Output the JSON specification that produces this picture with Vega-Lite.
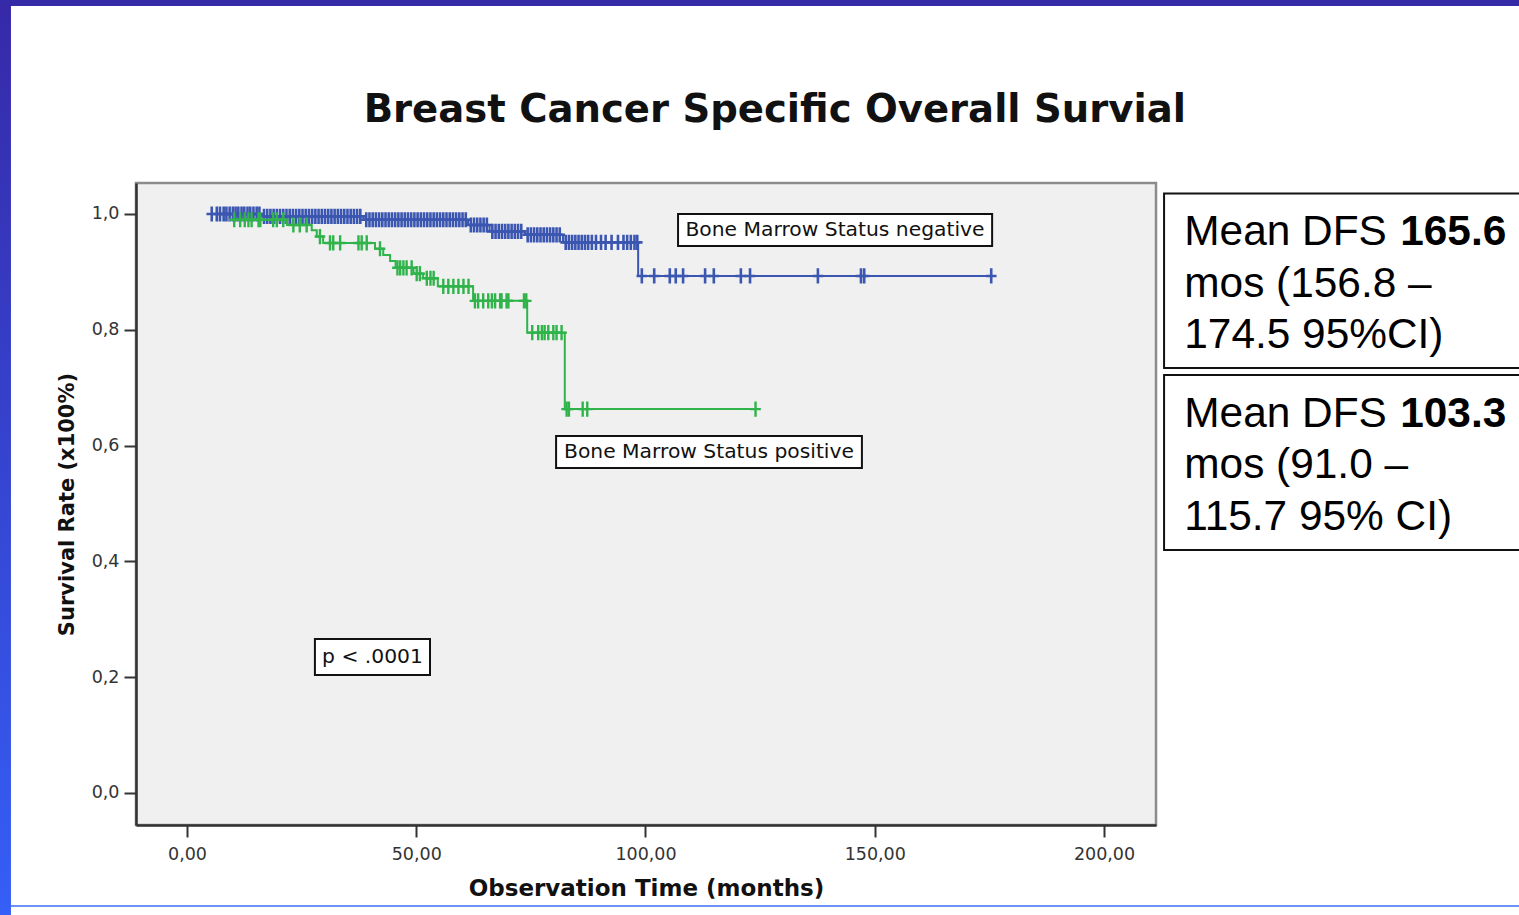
{
  "$schema": "https://vega.github.io/schema/vega-lite/v6.json",
  "width": 1020,
  "height": 642,
  "autosize": {"type": "none"},
  "padding": {"left": 136, "top": 183, "right": 363, "bottom": 90},
  "background": "white",
  "config": {
    "view": {"fill": "#f0f0f0", "stroke": "#8c8c8c", "strokeWidth": 2.5},
    "axis": {
      "domainColor": "#333333", "domainWidth": 2.5, "tickColor": "#333333", "tickWidth": 2, "tickSize": 12,
      "labelFont": "DejaVu Sans", "labelFontSize": 17.5, "labelColor": "#333333",
      "titleFont": "DejaVu Sans", "titleFontWeight": "bold", "titleColor": "#111111", "grid": false
    }
  },
  "datasets": {
    "km": [
      {"g":"neg","x":5.4,"y":1.0,"c":1},
      {"g":"neg","x":6.5,"y":1.0,"c":1},{"g":"neg","x":7.2,"y":1.0,"c":1},{"g":"neg","x":8.0,"y":1.0,"c":1},{"g":"neg","x":8.6,"y":1.0,"c":1},{"g":"neg","x":9.3,"y":1.0,"c":1},{"g":"neg","x":10.0,"y":1.0,"c":1},{"g":"neg","x":10.6,"y":1.0,"c":1},{"g":"neg","x":11.2,"y":1.0,"c":1},{"g":"neg","x":11.9,"y":1.0,"c":1},{"g":"neg","x":12.5,"y":1.0,"c":1},{"g":"neg","x":13.2,"y":1.0,"c":1},{"g":"neg","x":13.8,"y":1.0,"c":1},{"g":"neg","x":14.5,"y":1.0,"c":1},{"g":"neg","x":15.2,"y":1.0,"c":1},{"g":"neg","x":15.8,"y":1.0,"c":1},
      {"g":"neg","x":16.2,"y":0.996,"c":0},
      {"g":"neg","x":16.8,"y":0.996,"c":1},{"g":"neg","x":17.5,"y":0.996,"c":1},{"g":"neg","x":18.2,"y":0.996,"c":1},{"g":"neg","x":18.9,"y":0.996,"c":1},{"g":"neg","x":19.6,"y":0.996,"c":1},{"g":"neg","x":20.3,"y":0.996,"c":1},{"g":"neg","x":21.0,"y":0.996,"c":1},{"g":"neg","x":21.7,"y":0.996,"c":1},{"g":"neg","x":22.4,"y":0.996,"c":1},{"g":"neg","x":23.1,"y":0.996,"c":1},{"g":"neg","x":23.8,"y":0.996,"c":1},{"g":"neg","x":24.5,"y":0.996,"c":1},{"g":"neg","x":25.2,"y":0.996,"c":1},{"g":"neg","x":25.9,"y":0.996,"c":1},{"g":"neg","x":26.6,"y":0.996,"c":1},{"g":"neg","x":27.3,"y":0.996,"c":1},{"g":"neg","x":28.0,"y":0.996,"c":1},{"g":"neg","x":28.7,"y":0.996,"c":1},{"g":"neg","x":29.4,"y":0.996,"c":1},{"g":"neg","x":30.1,"y":0.996,"c":1},{"g":"neg","x":30.8,"y":0.996,"c":1},{"g":"neg","x":31.5,"y":0.996,"c":1},{"g":"neg","x":32.2,"y":0.996,"c":1},{"g":"neg","x":32.9,"y":0.996,"c":1},{"g":"neg","x":33.6,"y":0.996,"c":1},{"g":"neg","x":34.3,"y":0.996,"c":1},{"g":"neg","x":35.0,"y":0.996,"c":1},{"g":"neg","x":35.7,"y":0.996,"c":1},{"g":"neg","x":36.4,"y":0.996,"c":1},{"g":"neg","x":37.1,"y":0.996,"c":1},{"g":"neg","x":37.8,"y":0.996,"c":1},
      {"g":"neg","x":38.5,"y":0.99,"c":0},
      {"g":"neg","x":39.1,"y":0.99,"c":1},{"g":"neg","x":39.8,"y":0.99,"c":1},{"g":"neg","x":40.5,"y":0.99,"c":1},{"g":"neg","x":41.2,"y":0.99,"c":1},{"g":"neg","x":41.9,"y":0.99,"c":1},{"g":"neg","x":42.6,"y":0.99,"c":1},{"g":"neg","x":43.3,"y":0.99,"c":1},{"g":"neg","x":44.0,"y":0.99,"c":1},{"g":"neg","x":44.7,"y":0.99,"c":1},{"g":"neg","x":45.4,"y":0.99,"c":1},{"g":"neg","x":46.1,"y":0.99,"c":1},{"g":"neg","x":46.8,"y":0.99,"c":1},{"g":"neg","x":47.5,"y":0.99,"c":1},{"g":"neg","x":48.2,"y":0.99,"c":1},{"g":"neg","x":48.9,"y":0.99,"c":1},{"g":"neg","x":49.6,"y":0.99,"c":1},{"g":"neg","x":50.3,"y":0.99,"c":1},{"g":"neg","x":51.0,"y":0.99,"c":1},{"g":"neg","x":51.7,"y":0.99,"c":1},{"g":"neg","x":52.4,"y":0.99,"c":1},{"g":"neg","x":53.1,"y":0.99,"c":1},{"g":"neg","x":53.8,"y":0.99,"c":1},{"g":"neg","x":54.5,"y":0.99,"c":1},{"g":"neg","x":55.2,"y":0.99,"c":1},{"g":"neg","x":55.9,"y":0.99,"c":1},{"g":"neg","x":56.6,"y":0.99,"c":1},{"g":"neg","x":57.3,"y":0.99,"c":1},{"g":"neg","x":58.0,"y":0.99,"c":1},{"g":"neg","x":58.7,"y":0.99,"c":1},{"g":"neg","x":59.4,"y":0.99,"c":1},{"g":"neg","x":60.1,"y":0.99,"c":1},{"g":"neg","x":60.8,"y":0.99,"c":1},
      {"g":"neg","x":61.3,"y":0.981,"c":0},
      {"g":"neg","x":61.9,"y":0.981,"c":1},{"g":"neg","x":62.6,"y":0.981,"c":1},{"g":"neg","x":63.3,"y":0.981,"c":1},{"g":"neg","x":64.0,"y":0.981,"c":1},{"g":"neg","x":64.7,"y":0.981,"c":1},{"g":"neg","x":65.4,"y":0.981,"c":1},
      {"g":"neg","x":66.0,"y":0.97,"c":0},
      {"g":"neg","x":66.6,"y":0.97,"c":1},{"g":"neg","x":67.3,"y":0.97,"c":1},{"g":"neg","x":68.0,"y":0.97,"c":1},{"g":"neg","x":68.7,"y":0.97,"c":1},{"g":"neg","x":69.4,"y":0.97,"c":1},{"g":"neg","x":70.1,"y":0.97,"c":1},{"g":"neg","x":70.8,"y":0.97,"c":1},{"g":"neg","x":71.5,"y":0.97,"c":1},{"g":"neg","x":72.2,"y":0.97,"c":1},{"g":"neg","x":72.9,"y":0.97,"c":1},
      {"g":"neg","x":73.7,"y":0.964,"c":0},
      {"g":"neg","x":74.3,"y":0.964,"c":1},{"g":"neg","x":75.0,"y":0.964,"c":1},{"g":"neg","x":75.7,"y":0.964,"c":1},{"g":"neg","x":76.4,"y":0.964,"c":1},{"g":"neg","x":77.1,"y":0.964,"c":1},{"g":"neg","x":77.8,"y":0.964,"c":1},{"g":"neg","x":78.5,"y":0.964,"c":1},{"g":"neg","x":79.2,"y":0.964,"c":1},{"g":"neg","x":79.9,"y":0.964,"c":1},{"g":"neg","x":80.6,"y":0.964,"c":1},{"g":"neg","x":81.3,"y":0.964,"c":1},
      {"g":"neg","x":82.0,"y":0.951,"c":0},
      {"g":"neg","x":82.6,"y":0.951,"c":1},{"g":"neg","x":83.3,"y":0.951,"c":1},{"g":"neg","x":84.0,"y":0.951,"c":1},{"g":"neg","x":84.7,"y":0.951,"c":1},{"g":"neg","x":85.4,"y":0.951,"c":1},{"g":"neg","x":86.1,"y":0.951,"c":1},{"g":"neg","x":86.8,"y":0.951,"c":1},{"g":"neg","x":87.5,"y":0.951,"c":1},{"g":"neg","x":88.3,"y":0.951,"c":1},{"g":"neg","x":89.2,"y":0.951,"c":1},{"g":"neg","x":90.3,"y":0.951,"c":1},{"g":"neg","x":91.3,"y":0.951,"c":1},{"g":"neg","x":92.6,"y":0.951,"c":1},{"g":"neg","x":94.0,"y":0.951,"c":1},{"g":"neg","x":95.2,"y":0.951,"c":1},{"g":"neg","x":96.0,"y":0.951,"c":1},{"g":"neg","x":96.8,"y":0.951,"c":1},{"g":"neg","x":97.6,"y":0.951,"c":1},{"g":"neg","x":98.2,"y":0.951,"c":1},
      {"g":"neg","x":98.4,"y":0.893,"c":0},
      {"g":"neg","x":99.2,"y":0.893,"c":1},{"g":"neg","x":101.9,"y":0.893,"c":1},{"g":"neg","x":105.3,"y":0.893,"c":1},{"g":"neg","x":106.6,"y":0.893,"c":1},{"g":"neg","x":108.2,"y":0.893,"c":1},{"g":"neg","x":113.0,"y":0.893,"c":1},{"g":"neg","x":114.9,"y":0.893,"c":1},{"g":"neg","x":120.8,"y":0.893,"c":1},{"g":"neg","x":122.8,"y":0.893,"c":1},{"g":"neg","x":137.6,"y":0.893,"c":1},{"g":"neg","x":147.0,"y":0.893,"c":1},{"g":"neg","x":147.7,"y":0.893,"c":1},{"g":"neg","x":175.4,"y":0.893,"c":1},
      {"g":"pos","x":10.3,"y":0.99,"c":1},
      {"g":"pos","x":11.6,"y":0.99,"c":1},{"g":"pos","x":12.6,"y":0.99,"c":1},{"g":"pos","x":13.4,"y":0.99,"c":1},{"g":"pos","x":14.1,"y":0.99,"c":1},{"g":"pos","x":15.6,"y":0.99,"c":1},{"g":"pos","x":16.0,"y":0.99,"c":1},{"g":"pos","x":18.8,"y":0.99,"c":1},{"g":"pos","x":19.6,"y":0.99,"c":1},{"g":"pos","x":21.0,"y":0.99,"c":1},
      {"g":"pos","x":21.8,"y":0.981,"c":0},
      {"g":"pos","x":23.2,"y":0.981,"c":1},{"g":"pos","x":24.6,"y":0.981,"c":1},{"g":"pos","x":26.1,"y":0.981,"c":1},
      {"g":"pos","x":27.2,"y":0.972,"c":0},
      {"g":"pos","x":28.3,"y":0.961,"c":0},
      {"g":"pos","x":29.0,"y":0.961,"c":1},
      {"g":"pos","x":29.7,"y":0.95,"c":0},
      {"g":"pos","x":31.2,"y":0.95,"c":1},{"g":"pos","x":31.9,"y":0.95,"c":1},{"g":"pos","x":33.4,"y":0.95,"c":1},{"g":"pos","x":37.4,"y":0.95,"c":1},{"g":"pos","x":38.1,"y":0.95,"c":1},{"g":"pos","x":39.2,"y":0.95,"c":1},
      {"g":"pos","x":41.0,"y":0.94,"c":0},
      {"g":"pos","x":42.1,"y":0.94,"c":1},
      {"g":"pos","x":42.8,"y":0.929,"c":0},
      {"g":"pos","x":44.3,"y":0.919,"c":0},
      {"g":"pos","x":45.5,"y":0.907,"c":0},
      {"g":"pos","x":45.9,"y":0.907,"c":1},{"g":"pos","x":46.5,"y":0.907,"c":1},{"g":"pos","x":47.2,"y":0.907,"c":1},{"g":"pos","x":47.9,"y":0.907,"c":1},{"g":"pos","x":49.0,"y":0.907,"c":1},
      {"g":"pos","x":49.4,"y":0.897,"c":0},
      {"g":"pos","x":50.1,"y":0.897,"c":1},{"g":"pos","x":50.8,"y":0.897,"c":1},
      {"g":"pos","x":51.5,"y":0.889,"c":0},
      {"g":"pos","x":52.3,"y":0.889,"c":1},{"g":"pos","x":53.1,"y":0.889,"c":1},{"g":"pos","x":53.8,"y":0.889,"c":1},
      {"g":"pos","x":54.7,"y":0.875,"c":0},
      {"g":"pos","x":55.9,"y":0.875,"c":1},{"g":"pos","x":57.0,"y":0.875,"c":1},{"g":"pos","x":58.1,"y":0.875,"c":1},{"g":"pos","x":59.2,"y":0.875,"c":1},{"g":"pos","x":60.3,"y":0.875,"c":1},{"g":"pos","x":61.4,"y":0.875,"c":1},
      {"g":"pos","x":62.4,"y":0.85,"c":0},
      {"g":"pos","x":62.8,"y":0.85,"c":1},{"g":"pos","x":63.5,"y":0.85,"c":1},{"g":"pos","x":64.6,"y":0.85,"c":1},{"g":"pos","x":65.7,"y":0.85,"c":1},{"g":"pos","x":66.5,"y":0.85,"c":1},{"g":"pos","x":67.2,"y":0.85,"c":1},{"g":"pos","x":68.3,"y":0.85,"c":1},{"g":"pos","x":68.6,"y":0.85,"c":1},{"g":"pos","x":69.7,"y":0.85,"c":1},{"g":"pos","x":70.1,"y":0.85,"c":1},{"g":"pos","x":73.5,"y":0.85,"c":1},{"g":"pos","x":74.0,"y":0.85,"c":1},
      {"g":"pos","x":74.2,"y":0.795,"c":0},
      {"g":"pos","x":75.3,"y":0.795,"c":1},{"g":"pos","x":76.6,"y":0.795,"c":1},{"g":"pos","x":77.4,"y":0.795,"c":1},{"g":"pos","x":78.0,"y":0.795,"c":1},{"g":"pos","x":78.8,"y":0.795,"c":1},{"g":"pos","x":79.9,"y":0.795,"c":1},{"g":"pos","x":80.6,"y":0.795,"c":1},{"g":"pos","x":81.7,"y":0.795,"c":1},
      {"g":"pos","x":82.4,"y":0.663,"c":0},
      {"g":"pos","x":82.8,"y":0.663,"c":1},{"g":"pos","x":83.3,"y":0.663,"c":1},{"g":"pos","x":86.3,"y":0.663,"c":1},{"g":"pos","x":87.3,"y":0.663,"c":1},{"g":"pos","x":124.0,"y":0.663,"c":1}
    ],
    "boxes": [
      {"kind":"plot","x":107.1,"x2":175.6,"y":1.0,"y2":0.9447},
      {"kind":"plot","x":80.5,"x2":147.2,"y":0.6166,"y2":0.5613},
      {"kind":"plot","x":27.9,"x2":53.0,"y":0.266,"y2":0.2038},
      {"kind":"side","x":213.1,"x2":300,"y":1.0354,"y2":0.734},
      {"kind":"side","x":213.1,"x2":300,"y":0.7219,"y2":0.4197}
    ],
    "deco": [
      {"kind":"left","x":-41,"x2":-38.39,"y":1.37,"y2":-0.22},
      {"kind":"top","x":-41,"x2":292,"y":1.37,"y2":1.3592},
      {"kind":"bottom","x":-38.39,"x2":292,"y":-0.195,"y2":-0.195}
    ],
    "notes": [
      {"role":"title","x":128.2,"y":1.1589,"label":"Breast Cancer Specific Overall Survial"},
      {"role":"inbox","x":141.33,"y":0.9724,"label":"Bone Marrow Status negative"},
      {"role":"inbox","x":113.85,"y":0.5889,"label":"Bone Marrow Status positive"},
      {"role":"inbox","x":40.46,"y":0.2349,"label":"p < .0001"},
      {"role":"side","x":217.5,"y":0.9465,"label":"Mean DFS"},
      {"role":"sidebold","x":264.6,"y":0.9465,"label":"165.6"},
      {"role":"side","x":217.5,"y":0.8572,"label":"mos (156.8 –"},
      {"role":"side","x":217.5,"y":0.768,"label":"174.5 95%CI)"},
      {"role":"side","x":217.5,"y":0.6316,"label":"Mean DFS"},
      {"role":"sidebold","x":264.6,"y":0.6316,"label":"103.3"},
      {"role":"side","x":217.5,"y":0.5435,"label":"mos (91.0 –"},
      {"role":"side","x":217.5,"y":0.4542,"label":"115.7 95% CI)"}
    ]
  },
  "encoding": {
    "x": {
      "field": "x", "type": "quantitative",
      "scale": {"domain": [-11.12, 211.34], "nice": false, "zero": false},
      "axis": {"values": [0, 50, 100, 150, 200], "labelExpr": "replace(format(datum.value, '.2f'), '.', ',')", "title": "Observation Time (months)", "titleFontSize": 23, "labelPadding": 8, "titlePadding": 15}
    },
    "y": {
      "field": "y", "type": "quantitative",
      "scale": {"domain": [-0.0553, 1.0535], "nice": false, "zero": false},
      "axis": {"values": [0, 0.2, 0.4, 0.6, 0.8, 1.0], "labelExpr": "replace(format(datum.value, '.1f'), '.', ',')", "title": "Survival Rate (x100%)", "titleFontSize": 21, "labelPadding": 5, "titlePadding": 14}
    }
  },
  "layer": [
    {
      "data": {"name": "deco"},
      "transform": [{"filter": "datum.kind === 'left'"}],
      "mark": {"type": "rect", "clip": false, "fill": {"gradient": "linear", "x1": 0, "y1": 0, "x2": 0, "y2": 1, "stops": [{"offset": 0, "color": "#3629a8"}, {"offset": 1, "color": "#355ff7"}]}},
      "encoding": {"x2": {"field": "x2"}, "y2": {"field": "y2"}}
    },
    {
      "data": {"name": "deco"},
      "transform": [{"filter": "datum.kind === 'top'"}],
      "mark": {"type": "rect", "clip": false, "fill": "#352aa8"},
      "encoding": {"x2": {"field": "x2"}, "y2": {"field": "y2"}}
    },
    {
      "data": {"name": "deco"},
      "transform": [{"filter": "datum.kind === 'bottom'"}],
      "mark": {"type": "rule", "clip": false, "color": "#3a6ef5", "strokeWidth": 1.5},
      "encoding": {"x2": {"field": "x2"}}
    },
    {
      "data": {"name": "km"},
      "transform": [{"filter": "datum.g === 'neg'"}],
      "mark": {"type": "line", "interpolate": "step-after", "color": "#3b56b0", "strokeWidth": 2},
      "encoding": {}
    },
    {
      "data": {"name": "km"},
      "transform": [{"filter": "datum.g === 'neg' && datum.c === 1"}],
      "mark": {"type": "point", "shape": "M0,-1V1M-0.7,0H0.7", "filled": false, "size": 230, "strokeWidth": 2.6, "color": "#3b56b0", "opacity": 1},
      "encoding": {}
    },
    {
      "data": {"name": "km"},
      "transform": [{"filter": "datum.g === 'pos'"}],
      "mark": {"type": "line", "interpolate": "step-after", "color": "#2fb34a", "strokeWidth": 2},
      "encoding": {}
    },
    {
      "data": {"name": "km"},
      "transform": [{"filter": "datum.g === 'pos' && datum.c === 1"}],
      "mark": {"type": "point", "shape": "M0,-1V1M-0.7,0H0.7", "filled": false, "size": 230, "strokeWidth": 2.4, "color": "#2fb34a", "opacity": 1},
      "encoding": {}
    },
    {
      "data": {"name": "boxes"},
      "mark": {"type": "rect", "clip": false, "fill": "white", "stroke": "#111111", "strokeWidth": 2},
      "encoding": {"x2": {"field": "x2"}, "y2": {"field": "y2"}}
    },
    {
      "data": {"name": "notes"},
      "transform": [{"filter": "datum.role === 'title'"}],
      "mark": {"type": "text", "clip": false, "font": "DejaVu Sans", "fontWeight": "bold", "fontSize": 38.6, "color": "#111111", "align": "center", "baseline": "alphabetic"},
      "encoding": {"text": {"field": "label"}}
    },
    {
      "data": {"name": "notes"},
      "transform": [{"filter": "datum.role === 'inbox'"}],
      "mark": {"type": "text", "clip": false, "font": "DejaVu Sans", "fontSize": 20.3, "color": "#111111", "align": "center", "baseline": "middle"},
      "encoding": {"text": {"field": "label"}}
    },
    {
      "data": {"name": "notes"},
      "transform": [{"filter": "datum.role === 'side'"}],
      "mark": {"type": "text", "clip": false, "font": "Liberation Sans", "fontSize": 42.4, "color": "#000000", "align": "left", "baseline": "alphabetic"},
      "encoding": {"text": {"field": "label"}}
    },
    {
      "data": {"name": "notes"},
      "transform": [{"filter": "datum.role === 'sidebold'"}],
      "mark": {"type": "text", "clip": false, "font": "Liberation Sans", "fontWeight": "bold", "fontSize": 42.4, "color": "#000000", "align": "left", "baseline": "alphabetic"},
      "encoding": {"text": {"field": "label"}}
    }
  ]
}
